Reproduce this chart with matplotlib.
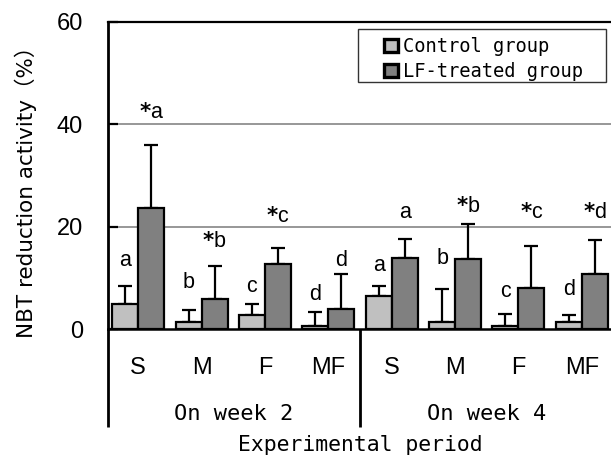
import matplotlib
matplotlib.use("Agg")
import matplotlib.pyplot as plt
import numpy as np
from matplotlib.patches import Patch, Rectangle
from matplotlib.transforms import blended_transform_factory

plt.rcParams["mathtext.fontset"] = "custom"
plt.rcParams["mathtext.rm"] = "Liberation Sans"
plt.rcParams["mathtext.bf"] = "DejaVu Sans:bold"

# ---- data ----
categories = ["S", "M", "F", "MF", "S", "M", "F", "MF"]
periods = ["On week 2", "On week 4"]
control = [5.0, 1.4, 2.7, 0.7, 6.5, 1.4, 0.7, 1.4]
control_err = [3.5, 2.3, 2.2, 2.7, 2.0, 6.4, 2.3, 1.3]
lf = [23.6, 6.0, 12.7, 4.0, 13.9, 13.7, 8.1, 10.7]
lf_err = [12.3, 6.4, 3.2, 6.8, 3.8, 6.9, 8.1, 6.7]
control_letters = ["a", "b", "c", "d", "a", "b", "c", "d"]
lf_letters = ["*a", "*b", "*c", "d", "a", "*b", "*c", "*d"]
control_label_y = [12.4, 8.1, 7.3, 5.7, 11.4, 12.8, 6.4, 6.7]
lf_label_y = [41.2, 16.0, 21.0, 12.4, 21.7, 23.0, 21.7, 21.7]
yticks = [0, 20, 40, 60]
legend_labels = ["Control group", "LF-treated group"]

C_CTRL = "#c0c0c0"
C_LF = "#808080"
SANS = ["Liberation Sans", "DejaVu Sans"]
MONO = ["DejaVu Sans Mono", "Noto Sans CJK JP"]


def star_label(s):
    return s.replace("*", r"$\mathbf{*}$")


W, H = 611, 458
fig = plt.figure(figsize=(W / 100, H / 100), dpi=100)
ax_left, ax_right, ax_top, ax_zero = 108, 612, 22, 329.3
ax = fig.add_axes([ax_left / W, 1 - ax_zero / H, (ax_right - ax_left) / W, (ax_zero - ax_top) / H])

x = np.arange(len(categories))
bw = 0.41
ax.set_xlim(-0.475, 7.475)
ax.set_ylim(0, 60)

for g in (20, 40):
    ax.axhline(g, color="#7a7a7a", lw=1.1, zorder=0)

ax.bar(x - bw / 2, control, bw, color=C_CTRL, edgecolor="black", lw=1.6, zorder=2)
ax.bar(x + bw / 2, lf, bw, color=C_LF, edgecolor="black", lw=1.6, zorder=2)
ax.errorbar(x - bw / 2, control, yerr=[np.zeros(len(x)), control_err], fmt="none",
            ecolor="black", elinewidth=1.6, capsize=5, capthick=1.6, zorder=1)
ax.errorbar(x + bw / 2, lf, yerr=[np.zeros(len(x)), lf_err], fmt="none",
            ecolor="black", elinewidth=1.6, capsize=5, capthick=1.6, zorder=1)

for i in range(len(x)):
    ax.text(x[i] - bw / 2, control_label_y[i], control_letters[i], ha="center", va="baseline",
            fontsize=15.5, family=SANS)
    ax.text(x[i] + bw / 2, lf_label_y[i], star_label(lf_letters[i]), ha="center",
            va="baseline", fontsize=15.5, family=SANS)

ax.spines["right"].set_visible(False)
ax.spines["top"].set_linewidth(1.6)
ax.spines["bottom"].set_linewidth(1.8)
ax.spines["left"].set_linewidth(2.0)

ax.set_yticks(yticks)
ax.set_yticklabels([str(t) for t in yticks], family=SANS)
ax.tick_params(axis="y", direction="in", length=7, width=1.6, pad=18, labelsize=17)
ax.set_xticks([])

ext = -(427 - ax_zero) / (ax_zero - ax_top)
ax.plot([0, 0], [0, ext], transform=ax.transAxes, color="black", lw=2.0, clip_on=False,
        solid_capstyle="butt")
bt = blended_transform_factory(ax.transData, ax.transAxes)
ax.plot([3.5, 3.5], [0, ext], transform=bt, color="black", lw=2.0, clip_on=False,
        solid_capstyle="butt")

cat_y = -(368 - ax_zero) / (ax_zero - ax_top)
per_y = -(414 - ax_zero) / (ax_zero - ax_top)
for i, c in enumerate(categories):
    ax.text(x[i], cat_y, c, transform=bt, ha="center", va="center", fontsize=17, family=SANS)
for j, p in enumerate(periods):
    ax.text(1.5 + 4 * j, per_y, p, transform=bt, ha="center", va="center", fontsize=15.8,
            family=MONO)

fig.text(360 / W, 1 - 445 / H, "Experimental period", ha="center", va="center",
         fontsize=15.4, family=MONO)
fig.text(26 / W, 1 - 187 / H, "NBT reduction activity（%）", rotation=90, ha="center",
         va="center", fontsize=15.5, family=["DejaVu Sans", "Noto Sans CJK JP"])

handles = [Patch(facecolor=C_CTRL, edgecolor="black", lw=2.4),
           Patch(facecolor=C_LF, edgecolor="black", lw=2.4)]
leg = fig.legend(handles, legend_labels, loc="upper left",
                 bbox_to_anchor=(375 / W, 1 - 28 / H), frameon=False, borderpad=0,
                 handlelength=0.7, handleheight=0.7, handletextpad=0.3, labelspacing=0.3,
                 prop={"family": MONO, "size": 13.5})
fig.patches.append(Rectangle((358 / W, 1 - 82 / H), 248 / W, 53 / H, transform=fig.transFigure,
                             fill=False, lw=1.0, ec="#333333"))

fig.savefig("out.png", dpi=100)
